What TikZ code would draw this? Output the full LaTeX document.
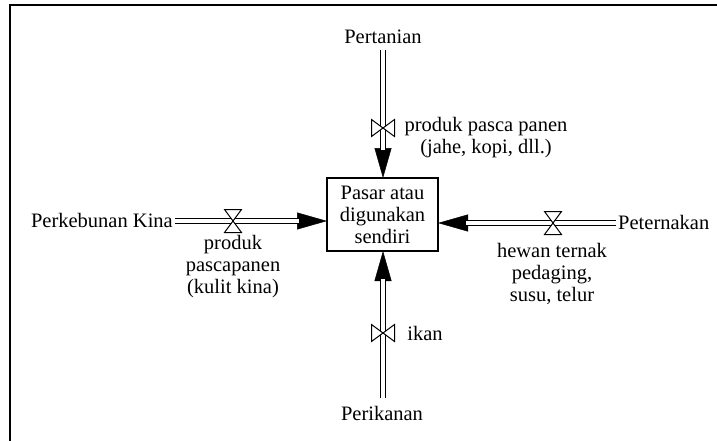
\documentclass[tikz,border=0pt]{standalone}
\usepackage{fontspec}
\setmainfont{Liberation Serif}
\usetikzlibrary{arrows.meta}
\begin{document}
\begin{tikzpicture}[x=1pt,y=-1pt,
  lbl/.style={font=\fontsize{20.5}{22}\selectfont, inner sep=0pt, align=center},
  pipe/.style={draw, double, double distance=4pt, line width=1pt},
  tipline/.style={line width=0.5pt, -{Triangle[length=30pt,width=17pt]}},
  stock/.style={lbl, draw, line width=1.2pt, minimum width=111pt, minimum height=73pt},
  valveh/.pic={\filldraw[fill=white, line width=1pt]
      (-8.5,-11.5) -- (8.5,-11.5) -- (-8.5,11.5) -- (8.5,11.5) -- cycle;},
  valvev/.pic={\filldraw[fill=white, line width=1pt]
      (-11.5,-8.5) -- (-11.5,8.5) -- (11.5,-8.5) -- (11.5,8.5) -- cycle;}]
\useasboundingbox (0,0) rectangle (717,441);

% frame edges
\draw[line width=2pt] (10,441) -- (10,5) -- (717,5);

% central stock
\node[stock] (box) at (382.5,214.5) {Pasar atau\\digunakan\\sendiri};

% sources
\node[lbl] (tani) at (383,37) {Pertanian};
\node[lbl, anchor=east] (kina) at (173,220) {Perkebunan Kina};
\node[lbl, anchor=west] (ternak) at (618,222) {Peternakan};
\node[lbl] (ikan) at (382,413) {Perikanan};

% pipe end points
\coordinate (tani-out) at (383,50);
\coordinate (box-n) at (383,178);
\coordinate (kina-out) at (175,221);
\coordinate (box-w) at (327,221);
\coordinate (ternak-out) at (616,223);
\coordinate (box-e) at (438,223);
\coordinate (ikan-out) at (383,398);
\coordinate (box-s) at (383,251);

% arrow heads
\draw[tipline] (tani-out) -- (box-n);
\draw[tipline] (kina-out) -- (box-w);
\draw[tipline] (ternak-out) -- (box-e);
\draw[tipline] (ikan-out) -- (box-s);

% flow pipes
\path[pipe, shorten >=28pt] (tani-out) -- (box-n);
\path[pipe, shorten >=28pt] (kina-out) -- (box-w);
\path[pipe, shorten >=28pt] (ternak-out) -- (box-e);
\path[pipe, shorten >=28pt] (ikan-out) -- (box-s);

% valves
\pic at (383,128) {valvev};
\pic at (233,221) {valveh};
\pic at (553,223) {valveh};
\pic at (383,333) {valvev};

% flow labels
\node[lbl] (ltani) at (486,138) {produk pasca panen\\(jahe, kopi, dll.)};
\node[lbl] (lkina) at (233,267) {produk\\pascapanen\\(kulit kina)};
\node[lbl] (lternak) at (552,274) {hewan ternak\\pedaging,\\susu, telur};
\node[lbl] (likan) at (425,333) {ikan};
\end{tikzpicture}
\end{document}
